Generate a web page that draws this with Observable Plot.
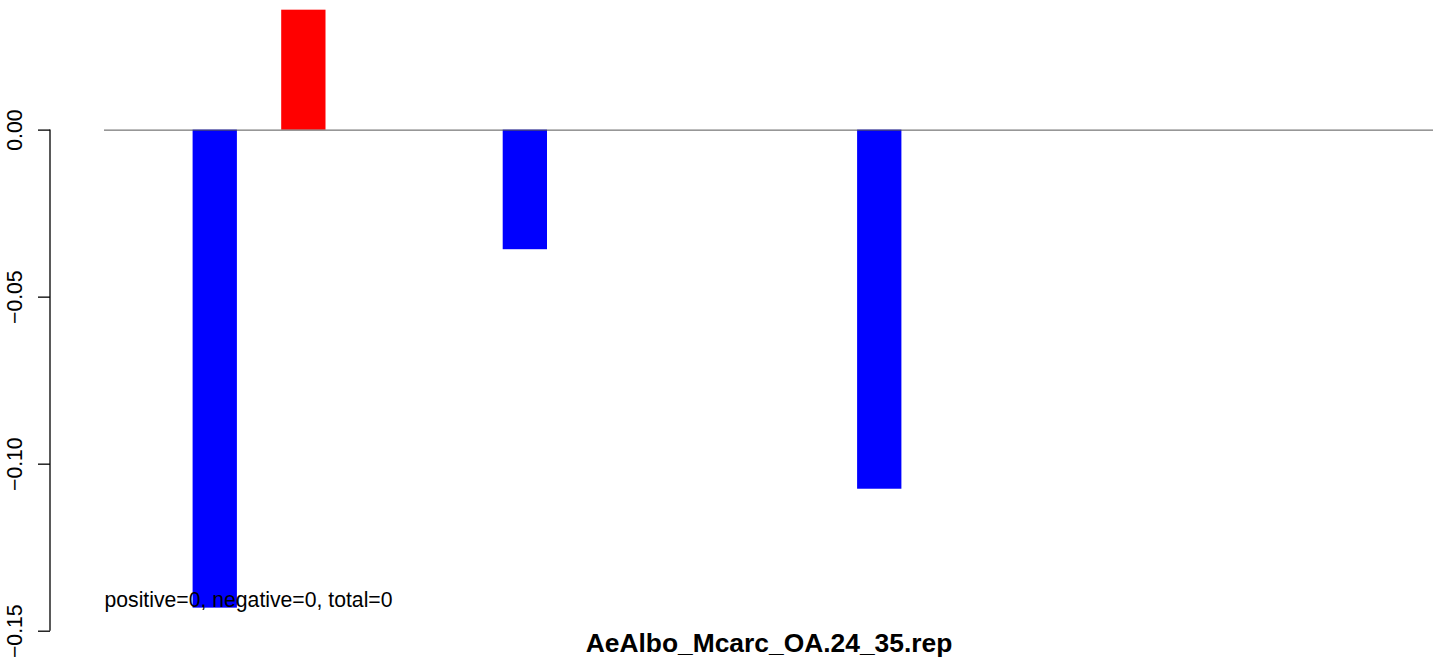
<!DOCTYPE html>
<html><head><meta charset="utf-8">
<script src="https://cdn.jsdelivr.net/npm/d3@7"></script>
<script src="https://cdn.jsdelivr.net/npm/@observablehq/plot@0.6"></script>
<style>body{margin:0;background:#fff} svg{display:block}</style>
</head><body><div id="chart"></div>
<script>
// Bar slots (position index among the plot's bar slots) and their values
const slotCount = 30;
const slots = [2, 4, 9, 17];
const values = [-0.1431, 0.0359, -0.0358, -0.1075];
const yTicks = [-0.15, -0.10, -0.05, 0.00];
const yTickLabels = ["\u22120.15", "\u22120.10", "\u22120.05", "0.00"];
const note = "positive=0, negative=0, total=0";
const title = "AeAlbo_Mcarc_OA.24_35.rep";

const data = slots.map((s, i) => ({slot: s, value: values[i]}));
const tickData = yTicks.map((v, i) => ({v, label: yTickLabels[i]}));

const chart = Plot.plot({
  width: 1433, height: 658,
  marginTop: 0, marginBottom: 27.3, marginLeft: 104, marginRight: 0,
  style: {fontFamily: "'Liberation Sans', Arial, Helvetica, sans-serif", background: "white", color: "black"},
  x: {type: "band", domain: d3.range(slotCount), padding: 0, round: false, axis: null},
  y: {domain: [-0.15, 0.0388], axis: null},
  color: {type: "identity"},
  marks: [
    Plot.barY(data, {x: "slot", y: "value", fill: d => d.value >= 0 ? "#FF0000" : "#0000FF"}),
    Plot.ruleY([0], {stroke: "#555", strokeWidth: 1}),
    Plot.axisY({ticks: yTicks, tickSize: 12, dx: -54, stroke: "black", strokeWidth: 1.3, fill: "none"}),
    Plot.text(tickData, {y: "v", text: "label", frameAnchor: "left", textAnchor: "middle", lineAnchor: "middle", rotate: -90, dx: -88.8, fontSize: 21.2, fill: "black"}),
    Plot.text([note], {frameAnchor: "bottom-left", textAnchor: "start", lineAnchor: "middle", dy: -30.8, fontSize: 21.2, fill: "black"}),
    Plot.text([title], {frameAnchor: "bottom", textAnchor: "middle", lineAnchor: "middle", dy: 12.6, fontSize: 26.4, fontWeight: "bold", fill: "black"})
  ]
});

// vertical axis line spanning the tick range, placed where the ticks are drawn
const y = chart.scale("y");
d3.select(chart).append("line")
  .attr("x1", 50).attr("x2", 50)
  .attr("y1", y.apply(yTicks[yTicks.length - 1]))
  .attr("y2", y.apply(yTicks[0]))
  .attr("stroke", "black").attr("stroke-width", 1.3);

document.getElementById("chart").appendChild(chart);
</script>
</body></html>
